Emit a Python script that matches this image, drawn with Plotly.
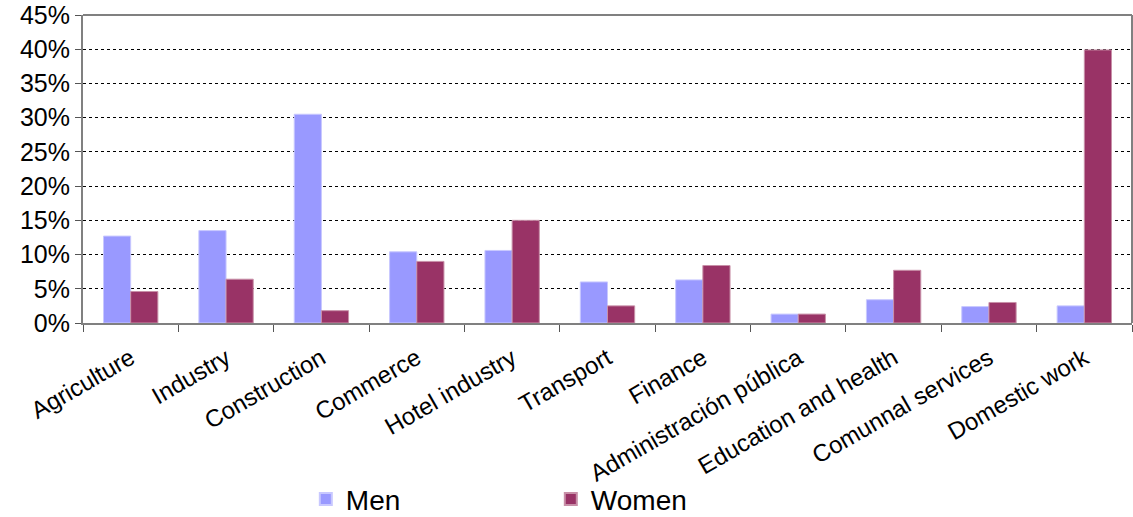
import plotly.graph_objects as go

categories = ["Agriculture", "Industry", "Construction", "Commerce", "Hotel industry",
              "Transport", "Finance", "Administración pública", "Education and health",
              "Comunnal services", "Domestic work"]
men = [12.7, 13.5, 30.5, 10.4, 10.6, 6.0, 6.3, 1.3, 3.4, 2.4, 2.5]
women = [4.6, 6.4, 1.8, 9.0, 15.0, 2.5, 8.4, 1.3, 7.7, 3.0, 39.9]
y_ticks = [0, 5, 10, 15, 20, 25, 30, 35, 40, 45]

FONT = "Liberation Sans, Arial, sans-serif"

fig = go.Figure()
fig.add_trace(go.Bar(name="Men", x=categories, y=men,
                     marker=dict(color="#9999FF", line=dict(color="#C8C8FF", width=1))))
fig.add_trace(go.Bar(name="Women", x=categories, y=women,
                     marker=dict(color="#993366", line=dict(color="#C890A8", width=1))))

fig.update_layout(
    width=1133, height=517,
    margin=dict(l=83, r=1, t=15, b=194, autoexpand=False),
    paper_bgcolor="white", plot_bgcolor="white",
    barmode="group", bargap=0.43, bargroupgap=0,
    font=dict(family=FONT, color="black", size=25),
    showlegend=True,
    legend=dict(orientation="h", x=0.2124, xanchor="left", y=-0.572, yanchor="middle",
                font=dict(size=28), entrywidth=200, entrywidthmode="pixels",
                bgcolor="rgba(0,0,0,0)", itemsizing="constant"),
)
fig.update_xaxes(
    type="category", tickangle=-30, tickfont=dict(size=24), automargin=False,
    showline=True, linecolor="#808080", linewidth=2, mirror=False,
    ticks="outside", tickson="boundaries", ticklen=7, tickcolor="#555555", tickwidth=1,
    ticklabelstandoff=10,
    showgrid=False,
)
fig.update_yaxes(
    range=[0, 45], tickvals=y_ticks, ticktext=[f"{v}%" for v in y_ticks],
    tickfont=dict(size=25), automargin=False,
    showline=True, linecolor="#808080", linewidth=2,
    ticks="outside", ticklen=6, tickcolor="#555555",
    showgrid=True, gridcolor="#000000", griddash="dot", gridwidth=1,
    zeroline=False, ticklabeloverflow="allow",
)
# frame top and right
fig.add_shape(type="line", xref="paper", yref="paper", x0=0, x1=1, y0=1, y1=1,
              line=dict(color="#808080", width=2))
fig.add_shape(type="line", xref="paper", yref="paper", x0=1, x1=1, y0=0, y1=1,
              line=dict(color="#808080", width=2))

fig.write_html("out.html")
